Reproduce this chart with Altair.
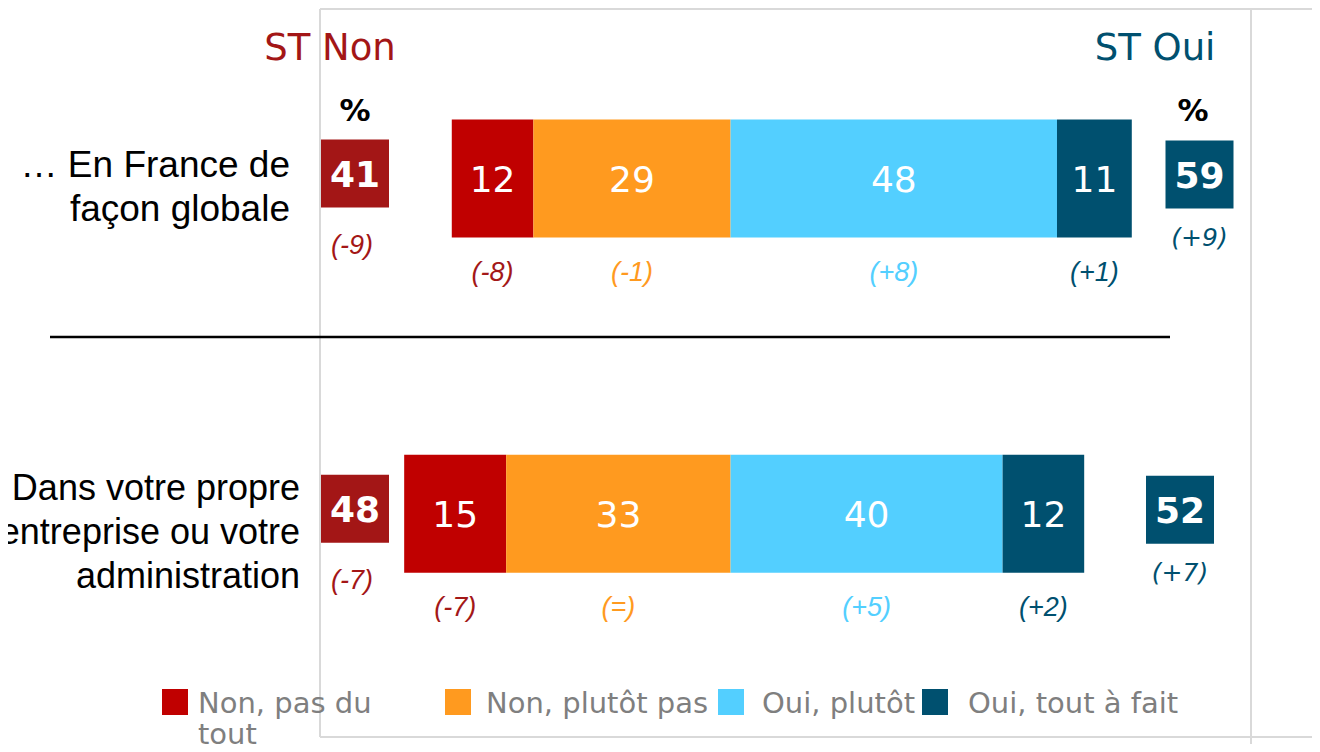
import altair as alt
import pandas as pd

# ---------------- data ----------------
categories = ["… En France de\nfaçon globale",
              "Dans votre propre\nentreprise ou votre\nadministration"]
series = ["Non, pas du tout", "Non, plutôt pas", "Oui, plutôt", "Oui, tout à fait"]
non_pas_du_tout = [12, 15]
non_plutot_pas = [29, 33]
oui_plutot = [48, 40]
oui_tout_a_fait = [11, 12]
delta_non_pas_du_tout = ["(-8)", "(-7)"]
delta_non_plutot_pas = ["(-1)", "(=)"]
delta_oui_plutot = ["(+8)", "(+5)"]
delta_oui_tout_a_fait = ["(+1)", "(+2)"]
delta_st_non = ["(-9)", "(-7)"]
delta_st_oui = ["(+9)", "(+7)"]

# ---------------- styles ----------------
bar_colors = ["#C00000", "#FF9A1F", "#53CFFF", "#00506F"]
delta_colors = ["#A31818", "#FF9A1F", "#53CFFF", "#00506F"]
st_non_color = "#A31616"
st_oui_color = "#00506F"
grey_line = "#D9D9D9"

W, H = 1304, 736
x_scale = alt.Scale(domain=[-106.26, 85.5], nice=False, zero=False)
y_enc = alt.Y("cat:N", scale=alt.Scale(type="point", domain=categories,
                                       range=[170.5, 505.8], padding=0),
              axis=None, sort=categories)

# ---------------- tables ----------------
rows = []
for i, cat in enumerate(categories):
    n1, n2 = non_pas_du_tout[i], non_plutot_pas[i]
    o1, o2 = oui_plutot[i], oui_tout_a_fait[i]
    segs = [(-(n1 + n2), -n2, n1, delta_non_pas_du_tout[i]),
            (-n2, 0, n2, delta_non_plutot_pas[i]),
            (0, o1, o1, delta_oui_plutot[i]),
            (o1, o1 + o2, o2, delta_oui_tout_a_fait[i])]
    for j, (s, e, v, d) in enumerate(segs):
        rows.append(dict(cat=cat, series=series[j], start=s, end=e,
                         mid=(s + e) / 2, value=v, delta=d,
                         color=bar_colors[j], tcolor=delta_colors[j]))
bars_df = pd.DataFrame(rows)

st_oui_px = [1191.5, 1172]  # layout: box centres (px)
st_df = pd.DataFrame(dict(
    cat=categories,
    st_non=[a + b for a, b in zip(non_pas_du_tout, non_plutot_pas)],
    st_oui=[a + b for a, b in zip(oui_plutot, oui_tout_a_fait)],
    d_non=delta_st_non, d_oui=delta_st_oui, oui_px=st_oui_px))

legend_df = pd.DataFrame(dict(
    label=[s.replace("du tout", "du\ntout") for s in series],
    color=bar_colors,
    sq=[167, 450, 723, 927],
    tx=[190, 478, 754, 960]))

# ---------------- layers ----------------
def rule(x, x2, y, y2, color, width):
    return alt.Chart(pd.DataFrame({"a": [0]})).mark_rule(
        color=color, strokeWidth=width).encode(
        x=alt.value(x), x2=alt.value(x2), y=alt.value(y), y2=alt.value(y2))

frame = [
    rule(312, W, 1, 1, grey_line, 2),
    rule(312, W, 729, 729, grey_line, 2),
    rule(312, 312, 1, 729, grey_line, 2),
    rule(1243, 1243, 0, H, grey_line, 2),
]
separator = rule(42, 1162, 329, 329, "#000000", 2.5)

bars = alt.Chart(bars_df).mark_bar(size=118).encode(
    y=y_enc,
    x=alt.X("start:Q", scale=x_scale, axis=None),
    x2="end:Q",
    color=alt.Color("color:N", scale=None))

bar_vals = alt.Chart(bars_df).mark_text(
    font="DejaVu Sans", fontSize=36, color="white", baseline="middle",
    dy=2).encode(
    y=y_enc, x=alt.X("mid:Q", scale=x_scale, axis=None), text="value:Q")

bar_deltas = alt.Chart(bars_df).mark_text(
    font="Liberation Sans", fontStyle="italic", fontSize=27,
    baseline="middle", dy=94).encode(
    y=y_enc, x=alt.X("mid:Q", scale=x_scale, axis=None), text="delta:N",
    color=alt.Color("tcolor:N", scale=None))

st_non_box = alt.Chart(st_df).mark_square(
    size=68 * 68, opacity=1, color=st_non_color, yOffset=-5).encode(
    y=y_enc, x=alt.value(347))
st_non_txt = alt.Chart(st_df).mark_text(
    font="DejaVu Sans", fontWeight="bold", fontSize=36, color="white",
    baseline="middle", dy=-3).encode(y=y_enc, x=alt.value(347), text="st_non:Q")
st_non_delta = alt.Chart(st_df).mark_text(
    font="Liberation Sans", fontStyle="italic", fontSize=27, color=st_non_color,
    baseline="middle", dy=67).encode(y=y_enc, x=alt.value(344), text="d_non:N")

st_oui_box = alt.Chart(st_df).mark_square(
    size=68 * 68, opacity=1, color=st_oui_color, yOffset=-4).encode(
    y=y_enc, x=alt.X("oui_px:Q", scale=None, axis=None))
st_oui_txt = alt.Chart(st_df).mark_text(
    font="DejaVu Sans", fontWeight="bold", fontSize=36, color="white",
    baseline="middle", dy=-2).encode(
    y=y_enc, x=alt.X("oui_px:Q", scale=None, axis=None), text="st_oui:Q")
st_oui_delta = alt.Chart(st_df).mark_text(
    font="DejaVu Sans", fontStyle="italic", fontSize=25, color=st_oui_color,
    baseline="middle", dy=59).encode(
    y=y_enc, x=alt.X("oui_px:Q", scale=None, axis=None), text="d_oui:N")

def label(x, y, txt, **kw):
    return alt.Chart(pd.DataFrame({"t": [txt]})).mark_text(**kw).encode(
        x=alt.value(x), y=alt.value(y), text="t:N")

headers = [
    label(322, 41, "ST Non", font="DejaVu Sans", fontSize=37, color=st_non_color,
          baseline="middle"),
    label(1147, 41, "ST Oui", font="DejaVu Sans", fontSize=37, color=st_oui_color,
          baseline="middle"),
    label(347, 104, "%", font="DejaVu Sans", fontSize=31, fontWeight="bold",
          color="black", baseline="middle"),
    label(1185, 104, "%", font="DejaVu Sans", fontSize=31, fontWeight="bold",
          color="black", baseline="middle"),
]

cat_label_1 = alt.Chart(st_df).transform_filter(
    alt.datum.cat == categories[0]).mark_text(
    font="Liberation Sans", fontSize=37, align="right", baseline="alphabetic",
    lineBreak="\n", lineHeight=44, dy=-1.5, color="black").encode(
    y=y_enc, x=alt.value(282), text="cat:N")
cat_label_2 = alt.Chart(st_df).transform_filter(
    alt.datum.cat == categories[1]).mark_text(
    font="Liberation Sans", fontSize=36, align="right", baseline="alphabetic",
    lineBreak="\n", lineHeight=44, dy=-14, color="black").encode(
    y=y_enc, x=alt.value(292), text="cat:N")

legend_sq = alt.Chart(legend_df).mark_square(size=26 * 26, opacity=1).encode(
    x=alt.X("sq:Q", scale=None, axis=None), y=alt.value(694),
    color=alt.Color("color:N", scale=None))
legend_tx = alt.Chart(legend_df).mark_text(
    font="DejaVu Sans", fontSize=29, color="#7F7F7F", align="left",
    baseline="alphabetic", lineBreak="\n", lineHeight=31).encode(
    x=alt.X("tx:Q", scale=None, axis=None), y=alt.value(705), text="label:N")

chart = alt.layer(
    *frame, separator, bars, bar_vals, bar_deltas,
    st_non_box, st_non_txt, st_non_delta,
    st_oui_box, st_oui_txt, st_oui_delta,
    *headers, cat_label_1, cat_label_2, legend_sq, legend_tx,
).resolve_scale(x="independent").properties(
    width=W, height=H, padding=0,
    autosize=alt.AutoSizeParams(type="none"),
).configure_view(stroke=None)

chart.save("out.html", embed_options={"renderer": "svg", "actions": False})
